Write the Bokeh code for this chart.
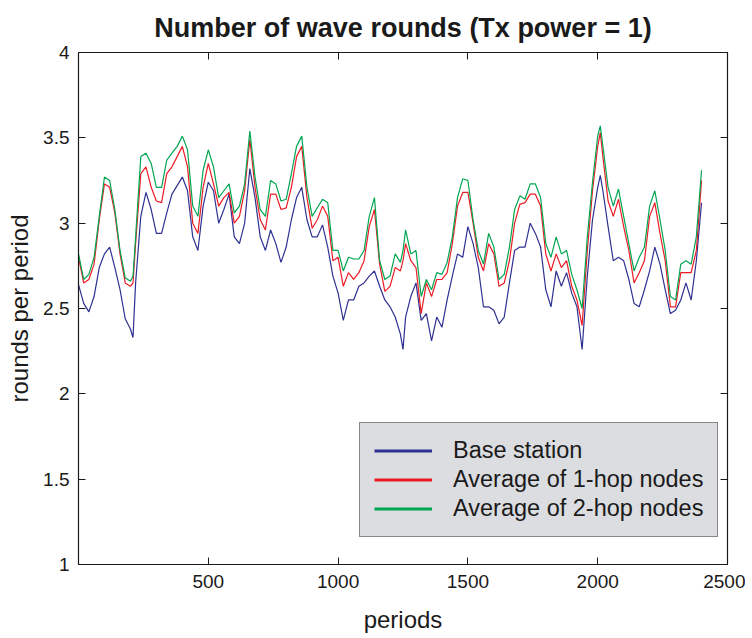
from bokeh.plotting import figure
from bokeh.models import (Range1d, FixedTicker, LinearAxis, Legend, LegendItem,
                          CustomLabelingPolicy)
from bokeh.embed import file_html
from bokeh.resources import INLINE

# ---------------- data ----------------
periods = [0, 20, 40, 60, 80, 100, 120, 140, 160, 180, 200, 210, 220, 240, 260, 280, 300,
           320, 340, 360, 380, 400, 420, 440, 460, 480, 500, 520, 540, 560, 580, 600,
           620, 640, 660, 680, 700, 720, 740, 760, 780, 800, 820, 840, 860, 880, 900,
           920, 940, 960, 980, 1000, 1020, 1040, 1060, 1080, 1100, 1120, 1140, 1160,
           1180, 1200, 1220, 1240, 1250, 1260, 1280, 1300, 1320, 1340, 1360, 1380, 1400,
           1420, 1440, 1460, 1480, 1500, 1520, 1540, 1560, 1580, 1600, 1620, 1640, 1660,
           1680, 1700, 1720, 1740, 1760, 1780, 1800, 1820, 1840, 1860, 1880, 1900, 1920,
           1940, 1960, 1980, 2000, 2010, 2020, 2040, 2060, 2080, 2100, 2120, 2140, 2160,
           2180, 2200, 2220, 2240, 2260, 2280, 2300, 2320, 2340, 2360, 2380, 2400]

base_station = [2.64, 2.53, 2.48, 2.57, 2.74, 2.82, 2.86, 2.74, 2.61, 2.44, 2.38, 2.33, 2.65,
                3.04, 3.18, 3.08, 2.94, 2.94, 3.06, 3.17, 3.22, 3.27, 3.19, 2.92, 2.84, 3.10,
                3.24, 3.19, 3.00, 3.08, 3.17, 2.92, 2.88, 3.00, 3.32, 3.15, 2.92, 2.84, 2.96,
                2.88, 2.77, 2.86, 3.02, 3.15, 3.21, 3.02, 2.92, 2.92, 2.99, 2.86, 2.69, 2.59,
                2.43, 2.55, 2.55, 2.63, 2.65, 2.69, 2.72, 2.63, 2.55, 2.51, 2.45, 2.35, 2.26,
                2.45, 2.57, 2.65, 2.43, 2.47, 2.31, 2.45, 2.39, 2.55, 2.69, 2.82, 2.80, 2.98,
                2.88, 2.74, 2.51, 2.51, 2.49, 2.41, 2.45, 2.65, 2.84, 2.86, 2.86, 3.00, 2.94,
                2.86, 2.61, 2.51, 2.72, 2.63, 2.71, 2.59, 2.51, 2.26, 2.69, 3.02, 3.21, 3.28,
                3.19, 2.98, 2.78, 2.80, 2.78, 2.67, 2.53, 2.51, 2.61, 2.72, 2.86, 2.76, 2.61,
                2.47, 2.49, 2.55, 2.65, 2.55, 2.78, 3.12]

one_hop = [2.80, 2.65, 2.67, 2.76, 3.02, 3.23, 3.21, 3.06, 2.82, 2.65, 2.63, 2.65, 2.88,
           3.29, 3.33, 3.21, 3.13, 3.12, 3.29, 3.33, 3.39, 3.45, 3.33, 3.00, 2.94, 3.21,
           3.35, 3.23, 3.10, 3.15, 3.18, 3.00, 3.04, 3.19, 3.49, 3.21, 3.02, 2.96, 3.17,
           3.17, 3.08, 3.09, 3.21, 3.39, 3.45, 3.15, 2.97, 3.02, 3.10, 3.04, 2.78, 2.80,
           2.63, 2.71, 2.67, 2.71, 2.78, 2.98, 3.08, 2.76, 2.60, 2.63, 2.74, 2.72, 2.78,
           2.88, 2.78, 2.74, 2.47, 2.65, 2.57, 2.67, 2.67, 2.71, 2.88, 3.10, 3.18, 3.18,
           3.00, 2.80, 2.72, 2.88, 2.82, 2.63, 2.65, 2.78, 3.00, 3.11, 3.12, 3.17, 3.17,
           3.10, 2.82, 2.72, 2.82, 2.74, 2.78, 2.63, 2.55, 2.40, 2.84, 3.19, 3.45, 3.53,
           3.39, 3.13, 3.04, 3.14, 2.98, 2.84, 2.65, 2.71, 2.78, 3.04, 3.12, 2.94, 2.78,
           2.51, 2.51, 2.71, 2.71, 2.71, 2.84, 3.25]

two_hop = [2.82, 2.67, 2.70, 2.80, 3.04, 3.27, 3.25, 3.08, 2.84, 2.68, 2.66, 2.69, 2.92,
           3.39, 3.41, 3.35, 3.21, 3.21, 3.37, 3.41, 3.45, 3.51, 3.43, 3.10, 3.04, 3.31,
           3.43, 3.33, 3.15, 3.19, 3.23, 3.06, 3.10, 3.23, 3.54, 3.27, 3.08, 3.04, 3.25,
           3.23, 3.13, 3.14, 3.29, 3.45, 3.51, 3.21, 3.04, 3.09, 3.14, 3.12, 2.84, 2.84,
           2.72, 2.80, 2.79, 2.79, 2.84, 3.04, 3.15, 2.78, 2.67, 2.69, 2.82, 2.77, 2.84,
           2.96, 2.82, 2.84, 2.57, 2.67, 2.61, 2.71, 2.70, 2.77, 2.92, 3.15, 3.26, 3.25,
           3.02, 2.84, 2.76, 2.94, 2.86, 2.67, 2.70, 2.86, 3.08, 3.16, 3.14, 3.23, 3.23,
           3.15, 2.88, 2.80, 2.92, 2.82, 2.84, 2.70, 2.61, 2.50, 2.92, 3.24, 3.51, 3.57,
           3.45, 3.21, 3.10, 3.20, 3.04, 2.88, 2.72, 2.80, 2.86, 3.10, 3.19, 3.02, 2.84,
           2.57, 2.55, 2.76, 2.78, 2.76, 2.92, 3.31]

series_names = ["Base station", "Average of 1-hop nodes", "Average of 2-hop nodes"]
series_colors = ["#2e3192", "#ed1c24", "#00a651"]

x_ticks = [500, 1000, 1500, 2000, 2500]
x_tick_labels = ["500", "1000", "1500", "2000", "2500"]
y_ticks = [1, 1.5, 2, 2.5, 3, 3.5, 4]
y_tick_labels = ["1", "1.5", "2", "2.5", "3", "3.5", "4"]

FONT = "Liberation Sans"
TXT = "#1a1a1a"

p = figure(width=745, height=636, output_backend="svg", toolbar_location=None,
           x_range=Range1d(0, 2500), y_range=Range1d(1, 4),
           min_border_left=78, min_border_right=18, min_border_top=52, min_border_bottom=72,
           title="Number of wave rounds (Tx power = 1)")

p.title.text_font = FONT
p.title.text_font_size = "27px"
p.title.text_font_style = "bold"
p.title.text_color = TXT
p.title.align = "center"
p.title.standoff = 12

p.xgrid.visible = False
p.ygrid.visible = False
p.outline_line_color = "#1a1a1a"
p.outline_line_width = 1
p.background_fill_color = "white"

hide_all = CustomLabelingPolicy(code="for (const i of indices) indices.unset(i)")

def style_axis(ax, ticker, overrides, show_labels=True):
    ax.ticker = ticker
    ax.major_tick_in = 7
    ax.major_tick_out = 0
    ax.minor_tick_in = 0
    ax.minor_tick_out = 0
    ax.axis_line_color = "#1a1a1a"
    ax.axis_line_width = 1.2
    ax.major_tick_line_color = "#1a1a1a"
    ax.major_tick_line_width = 1
    if show_labels:
        ax.major_label_overrides = overrides
        ax.major_label_text_font = FONT
        ax.major_label_text_font_size = "19px"
        ax.major_label_text_color = TXT
    else:
        ax.major_label_policy = hide_all
        ax.major_label_text_font_size = "1px"
        ax.major_label_standoff = 0

xt = FixedTicker(ticks=x_ticks)
yt = FixedTicker(ticks=y_ticks)
x_over = dict(zip(x_ticks, x_tick_labels))
y_over = dict(zip(y_ticks, y_tick_labels))

style_axis(p.xaxis[0], xt, x_over)
style_axis(p.yaxis[0], yt, y_over)
p.xaxis[0].major_label_standoff = 10
p.yaxis[0].major_label_standoff = 9
p.xaxis[0].axis_label = "periods"
p.yaxis[0].axis_label = "rounds per period"
for ax, st in ((p.xaxis[0], 15), (p.yaxis[0], 7)):
    ax.axis_label_text_font = FONT
    ax.axis_label_text_font_size = "24px"
    ax.axis_label_text_font_style = "normal"
    ax.axis_label_text_color = TXT
    ax.axis_label_standoff = st

top_ax = LinearAxis()
style_axis(top_ax, xt, x_over, show_labels=False)
p.add_layout(top_ax, "above")
right_ax = LinearAxis()
style_axis(right_ax, yt, y_over, show_labels=False)
p.add_layout(right_ax, "right")

nan = float("nan")
all_series = [base_station, one_hop, two_hop]
legend_items = []
for vals, name, col in zip(all_series, series_names, series_colors):
    p.line(periods, vals, line_color=col, line_width=1.2)
for name, col in zip(series_names, series_colors):
    # legend-only swatch: a NaN point draws nothing in the plot
    dummy = p.line(x=[nan], y=[nan], line_color=col, line_width=3)
    legend_items.append(LegendItem(label=name, renderers=[dummy]))

legend = Legend(items=legend_items, location=(281, 27))
legend.label_text_font = FONT
legend.label_text_font_size = "23.5px"
legend.label_text_color = TXT
legend.background_fill_color = "#dcdde0"
legend.background_fill_alpha = 1
legend.border_line_color = "#333333"
legend.border_line_width = 1
legend.glyph_width = 58
legend.glyph_height = 27
legend.label_height = 27
legend.label_standoff = 21
legend.spacing = 2
legend.padding = 14
legend.margin = 0
p.add_layout(legend, "center")

open("out.html", "w").write(file_html(p, INLINE))
